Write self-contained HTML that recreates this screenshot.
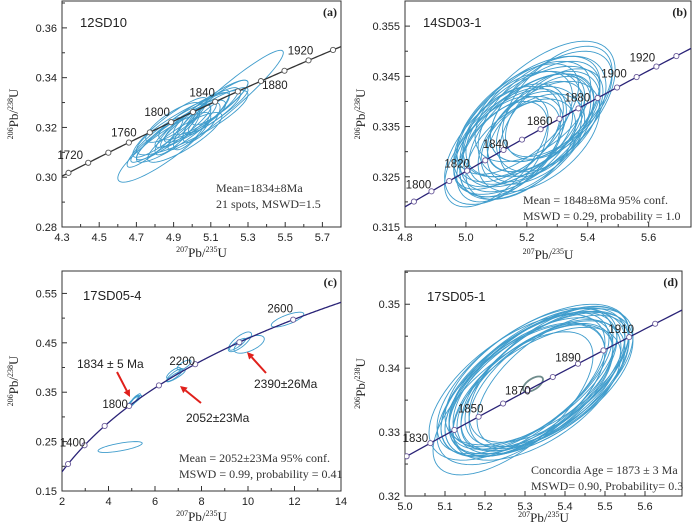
<!DOCTYPE html>
<html><head><meta charset="utf-8">
<style>
html,body{margin:0;padding:0;background:#fff;}
svg{display:block;}
.tick{font-family:"Liberation Sans",Arial,sans-serif;font-size:11px;fill:#222;}
.samp{font-family:"Liberation Sans",Arial,sans-serif;font-size:13px;fill:#222;}
.stat{font-family:"Liberation Serif","Times New Roman",serif;font-size:12px;fill:#333;}
.ttl{font-family:"Liberation Serif","Times New Roman",serif;font-size:13px;fill:#222;}
.age{font-family:"Liberation Sans",Arial,sans-serif;font-size:11.5px;fill:#222;}
.ann{font-family:"Liberation Sans",Arial,sans-serif;font-size:12px;fill:#222;}
.pl{font-family:"Liberation Serif","Times New Roman",serif;font-size:12px;font-weight:bold;fill:#222;}
</style></head>
<body>
<svg id="fig" width="700" height="528" viewBox="0 0 700 528" xmlns="http://www.w3.org/2000/svg"></svg>
<script>
// ---------- Panel (a) data ----------
const aEllX  =[5.18,4.85,5.00,4.95,5.05,4.90,5.10,4.98,5.05,4.85,5.15,4.92,5.00,5.08,4.80,5.00,4.96,5.12,4.88,5.05,4.90];
const aEllY  =[0.331,0.312,0.322,0.320,0.325,0.318,0.328,0.321,0.324,0.316,0.330,0.318,0.320,0.326,0.314,0.323,0.316,0.326,0.320,0.322,0.322];
const aEllSx =[0.31,0.25,0.30,0.25,0.20,0.20,0.20,0.15,0.25,0.18,0.15,0.12,0.10,0.12,0.15,0.18,0.20,0.14,0.20,0.10,0.15];
const aEllSy =[0.020,0.014,0.013,0.014,0.011,0.011,0.011,0.009,0.012,0.010,0.009,0.009,0.009,0.009,0.010,0.008,0.010,0.008,0.012,0.008,0.008];
const aEllRho=[0.95,0.88,0.86,0.9,0.9,0.92,0.9,0.9,0.92,0.92,0.88,0.85,0.8,0.85,0.9,0.8,0.85,0.9,0.9,0.75,0.8];
const aXTicks=[4.3,4.5,4.7,4.9,5.1,5.3,5.5,5.7];
const aYTicks=[0.28,0.30,0.32,0.34,0.36];
const aMarkAges=[1700,1720,1740,1760,1780,1800,1820,1840,1860,1880,1900,1920,1940];
const aLabelAges=[1720,1760,1800,1840,1880,1920];
const aStats=["Mean=1834\u00b18Ma","21 spots, MSWD=1.5"];

// ---------- Panel (b) data ----------
const bEllX  =[5.24,5.20,5.18,5.22,5.15,5.26,5.20,5.12,5.28,5.17,5.23,5.19,5.14,5.25,5.21,5.16,5.27,5.13,5.22,5.18,5.30,5.10,5.24,5.20,5.15,5.26,5.19,5.22,5.17,5.29];
const bEllY  =[0.3375,0.3330,0.3340,0.3360,0.3310,0.3380,0.3345,0.3300,0.3390,0.3320,0.3350,0.3335,0.3325,0.3370,0.3340,0.3350,0.3360,0.3315,0.3380,0.3305,0.3400,0.3300,0.3330,0.3360,0.3340,0.3350,0.3320,0.3325,0.3365,0.3375];
const bEllSx =[0.25,0.22,0.20,0.22,0.17,0.18,0.19,0.15,0.20,0.21,0.16,0.23,0.18,0.21,0.14,0.19,0.17,0.20,0.19,0.18,0.18,0.17,0.20,0.24,0.16,0.15,0.12,0.17,0.20,0.16];
const bEllSy =[0.0145,0.0125,0.012,0.011,0.010,0.010,0.011,0.010,0.011,0.011,0.009,0.012,0.010,0.012,0.008,0.011,0.010,0.012,0.010,0.010,0.011,0.011,0.011,0.013,0.009,0.010,0.008,0.009,0.011,0.009];
const bEllRho=[0.6,0.55,0.5,0.55,0.5,0.5,0.6,0.5,0.55,0.45,0.5,0.6,0.6,0.5,0.4,0.55,0.45,0.55,0.5,0.5,0.55,0.6,0.5,0.6,0.4,0.5,0.4,0.45,0.6,0.5];
const bXTicks=[4.8,5.0,5.2,5.4,5.6];
const bYTicks=[0.315,0.325,0.335,0.345,0.355];
const bMarkAges=[1790,1800,1810,1820,1830,1840,1850,1860,1870,1880,1890,1900,1910,1920,1930];
const bLabelAges=[1800,1820,1840,1860,1880,1900,1920];
const bStats=["Mean = 1848\u00b18Ma  95% conf.","MSWD = 0.29, probability = 1.0"];

// ---------- Panel (c) data ----------
const cEllX  =[4.5,5.08,5.15,5.12,5.10,6.85,6.80,6.90,7.25,9.65,10.05,9.55,11.7];
const cEllY  =[0.239,0.331,0.335,0.333,0.334,0.385,0.389,0.383,0.405,0.452,0.447,0.447,0.497];
const cEllSx =[0.95,0.22,0.22,0.30,0.18,0.35,0.30,0.40,0.30,0.50,0.65,0.35,0.70];
const cEllSy =[0.011,0.012,0.012,0.011,0.010,0.013,0.011,0.012,0.010,0.020,0.018,0.012,0.015];
const cEllRho=[0.7,0.9,0.9,0.9,0.85,0.85,0.8,0.9,0.7,0.75,0.6,0.85,0.75];
const cXTicks=[2,4,6,8,10,12,14];
const cYTicks=[0.15,0.25,0.35,0.45,0.55];
const cMarkAges=[1200,1400,1600,1800,2000,2200,2400,2600];
const cLabelAges=[1400,1800,2200,2600];
const cStats=["Mean = 2052\u00b123Ma 95% conf.","MSWD = 0.99, probability = 0.41"];

// ---------- Panel (d) data ----------
const dEllX  =[5.32,5.33,5.31,5.34,5.30,5.35,5.33,5.32,5.36,5.31,5.34,5.29,5.33,5.35,5.30,5.32,5.36,5.31,5.34,5.33,5.28,5.37,5.27];
const dEllY  =[0.3375,0.3380,0.3370,0.3385,0.3365,0.3380,0.3370,0.3385,0.3390,0.3375,0.3370,0.3360,0.3390,0.3375,0.3380,0.3365,0.3385,0.3380,0.3375,0.3360,0.3370,0.3380,0.3345];
const dEllSx =[0.23,0.22,0.21,0.22,0.20,0.21,0.19,0.21,0.20,0.22,0.21,0.21,0.23,0.19,0.22,0.20,0.21,0.20,0.23,0.21,0.22,0.19,0.20];
const dEllSy =[0.0114,0.0114,0.0109,0.0112,0.0104,0.0109,0.0100,0.0108,0.0106,0.0112,0.0104,0.0111,0.0110,0.0101,0.0114,0.0103,0.0108,0.0107,0.0112,0.0104,0.0114,0.0103,0.0112];
const dEllRho=[0.6,0.62,0.6,0.62,0.58,0.6,0.6,0.62,0.6,0.63,0.58,0.6,0.6,0.57,0.63,0.6,0.6,0.62,0.6,0.58,0.62,0.6,0.66];
const dMeanX=[5.32], dMeanY=[0.3375], dMeanSx=[0.025], dMeanSy=[0.0012], dMeanRho=[0.6];
const dXTicks=[5.0,5.1,5.2,5.3,5.4,5.5,5.6];
const dYTicks=[0.32,0.33,0.34,0.35];
const dMarkAges=[1820,1830,1840,1850,1860,1870,1880,1890,1900,1910,1920];
const dLabelAges=[1830,1850,1870,1890,1910];
const dStats=["Concordia Age = 1873 \u00b1 3 Ma","MSWD= 0.90, Probability= 0.3"];

// ---------- rendering ----------
const NS="http://www.w3.org/2000/svg";
const fig=document.getElementById('fig');
const L235=0.00098485, L238=0.000155125;
function cx207(t){return Math.exp(L235*t)-1;}
function cy206(t){return Math.exp(L238*t)-1;}
function mk(tag,attrs,parent){const e=document.createElementNS(NS,tag);for(const k in attrs)e.setAttribute(k,attrs[k]);(parent||fig).appendChild(e);return e;}

function ellipsePath(sx,sy,x,y,a,b,r){
  let d="";
  for(let i=0;i<=72;i++){const t=i/72*2*Math.PI;
    const px=x+a*Math.cos(t), py=y+b*(r*Math.cos(t)+Math.sqrt(1-r*r)*Math.sin(t));
    d+=(i?"L":"M")+sx(px).toFixed(2)+","+sy(py).toFixed(2);}
  return d+"Z";
}

function panel(cfg){
  const g=mk('g',{});
  
  
  const sx=v=>cfg.x0+(v-cfg.xd[0])/(cfg.xd[1]-cfg.xd[0])*(cfg.x1-cfg.x0);
  const sy=v=>cfg.y1-(v-cfg.yd[0])/(cfg.yd[1]-cfg.yd[0])*(cfg.y1-cfg.y0);
  const clipId='clip-'+cfg.name;
  const cp=mk('clipPath',{id:clipId},g);
  mk('rect',{x:cfg.x0,y:cfg.y0,width:cfg.x1-cfg.x0,height:cfg.y1-cfg.y0},cp);
  const frame=mk('rect',{x:cfg.x0,y:cfg.y0,width:cfg.x1-cfg.x0,height:cfg.y1-cfg.y0,fill:'none',stroke:'#333','stroke-width':1},g);
  
  
  const xs=cfg.xt, xstep=xs[1]-xs[0];
  xs.forEach((v,i)=>{
    const X=sx(v);
    mk('line',{x1:X,x2:X,y1:cfg.y1,y2:cfg.y1-5,stroke:'#333'},g);
    if(i<xs.length-1){const Xm=sx(v+xstep/2); if(Xm<cfg.x1) mk('line',{x1:Xm,x2:Xm,y1:cfg.y1,y2:cfg.y1-3,stroke:'#333'},g);}
    const t=mk('text',{x:X,y:cfg.y1+14,'text-anchor':'middle',class:'tick'},g);
    
    
    t.textContent=cfg.xfmt(v);
  });
  const ys=cfg.yt, ystep=ys[1]-ys[0];
  ys.forEach((v,i)=>{
    const Y=sy(v);
    mk('line',{x1:cfg.x0,x2:cfg.x0+5,y1:Y,y2:Y,stroke:'#333'},g);
    const Ym=sy(v+ystep/2); if(Ym>cfg.y0) mk('line',{x1:cfg.x0,x2:cfg.x0+3,y1:Ym,y2:Ym,stroke:'#333'},g);
    const t=mk('text',{x:cfg.x0-5,y:Y+4,'text-anchor':'end',class:'tick'},g);
    
    
    t.textContent=cfg.yfmt(v);
  });
  const inner=mk('g',{'clip-path':'url(#'+clipId+')'},g);
  const E=cfg.ell;
  for(let i=0;i<E[0].length;i++){
    const p=mk('path',{d:ellipsePath(sx,sy,E[0][i],E[1][i],E[2][i],E[3][i],E[4][i]),fill:'none',stroke:'#3f9ccc','stroke-width':0.9},inner);
    
    
  }
  if(cfg.mean){const M=cfg.mean;
    const p=mk('path',{d:ellipsePath(sx,sy,M[0][0],M[1][0],M[2][0],M[3][0],M[4][0]),fill:'none',stroke:'#6f8c8c','stroke-width':1.8},inner);
    
    
  }
  let d="";
  for(let t=cfg.ageRange[0];t<=cfg.ageRange[1];t+=2){d+=(d?"L":"M")+sx(cx207(t)).toFixed(2)+","+sy(cy206(t)).toFixed(2);}
  const c=mk('path',{d:d,fill:'none',stroke:cfg.ccol,'stroke-width':1.3},inner);
  
  
  cfg.marks.forEach(a=>{
    const m=mk('circle',{cx:sx(cx207(a)),cy:sy(cy206(a)),r:2.6,fill:'#fff',stroke:cfg.mcol,'stroke-width':0.9},inner);
    
    
  });
  cfg.labels.forEach((a,i)=>{
    const o=cfg.loff[i];
    const t=mk('text',{x:sx(cx207(a))+o[0],y:sy(cy206(a))+o[1],'text-anchor':'middle',class:'age'},g);
    
    
    t.textContent=a;
  });
  const s=mk('text',{x:cfg.sampPos[0],y:cfg.sampPos[1],class:'samp'},g);
  
  
  s.textContent=cfg.sample;
  const pl=mk('text',{x:cfg.x1-4,y:cfg.y0+15,'text-anchor':'end',class:'pl'},g);
  
  
  pl.textContent=cfg.letter;
  cfg.stats.forEach((line,i)=>{
    const t=mk('text',{x:cfg.statPos[0],y:cfg.statPos[1]+i*cfg.statGap,class:'stat'},g);
    
    
    t.textContent=line;
  });
  const xt=mk('text',{x:(cfg.x0+cfg.x1)/2,y:cfg.y1+cfg.xtitleDy,'text-anchor':'middle',class:'ttl'},g);
  
  
  xt.innerHTML='<tspan font-size="8" dy="-5">207</tspan><tspan dy="5">Pb/</tspan><tspan font-size="8" dy="-5">235</tspan><tspan dy="5">U</tspan>';
  const yx=cfg.ytitleX, yy=(cfg.y0+cfg.y1)/2;
  const yt=mk('text',{x:yx,y:yy,'text-anchor':'middle',class:'ttl',transform:'rotate(-90 '+yx+' '+yy+')'},g);
  
  
  yt.innerHTML='<tspan font-size="8" dy="-5">206</tspan><tspan dy="5">Pb/</tspan><tspan font-size="8" dy="-5">238</tspan><tspan dy="5">U</tspan>';
  return {g,sx,sy};
}

panel({name:'panel-a',x0:62,x1:341,y0:1,y1:227,xd:[4.3,5.8],yd:[0.28,0.3708],
  xt:aXTicks,yt:aYTicks,xfmt:v=>v.toFixed(1),yfmt:v=>v.toFixed(2),
  ell:[aEllX,aEllY,aEllSx,aEllSy,aEllRho],ccol:'#333',mcol:'#555',ageRange:[1650,1990],
  marks:aMarkAges,labels:aLabelAges,loff:[[-18,-4],[-5,-6],[-14,-6],[-13,-5],[14,8],[-8,-6]],
  sample:'12SD10',sampPos:[80,27],letter:'(a)',stats:aStats,statPos:[216,192],statGap:16,
  xtitleDy:30,ytitleX:18});
panel({name:'panel-b',x0:405,x1:691,y0:1,y1:227,xd:[4.8,5.739],yd:[0.315,0.3600],
  xt:bXTicks,yt:bYTicks,xfmt:v=>v.toFixed(1),yfmt:v=>v.toFixed(3),
  ell:[bEllX,bEllY,bEllSx,bEllSy,bEllRho],ccol:'#2a2377',mcol:'#6a5a9a',ageRange:[1770,1960],
  marks:bMarkAges,labels:bLabelAges,loff:[[-13,-3],[-10,-3],[-8,-2],[-1,-4],[-1,-7],[-3,-10],[-14,-5]],
  sample:'14SD03-1',sampPos:[423,27],letter:'(b)',stats:bStats,statPos:[523,204],statGap:16,
  xtitleDy:32,ytitleX:365});
panel({name:'panel-c',x0:62,x1:341,y0:271,y1:491,xd:[2,14],yd:[0.15,0.5954],
  xt:cXTicks,yt:cYTicks,xfmt:v=>String(v),yfmt:v=>v.toFixed(2),
  ell:[cEllX,cEllY,cEllSx,cEllSy,cEllRho],ccol:'#2a2377',mcol:'#6a5a9a',ageRange:[1000,2800],
  marks:cMarkAges,labels:cLabelAges,loff:[[-12,1],[-14,2],[-13,1],[-13,-7]],
  sample:'17SD05-4',sampPos:[83,300],letter:'(c)',stats:cStats,statPos:[179,462],statGap:16,
  xtitleDy:30,ytitleX:18});
panel({name:'panel-d',x0:405,x1:682,y0:271,y1:496,xd:[5.0,5.6925],yd:[0.32,0.3552],
  xt:dXTicks,yt:dYTicks,xfmt:v=>v.toFixed(1),yfmt:v=>v.toFixed(2),
  ell:[dEllX,dEllY,dEllSx,dEllSy,dEllRho],mean:[dMeanX,dMeanY,dMeanSx,dMeanSy,dMeanRho],
  ccol:'#2a2377',mcol:'#6a5a9a',ageRange:[1800,1940],
  marks:dMarkAges,labels:dLabelAges,loff:[[-15,-1],[-8,-4],[-10,4],[-10,-2],[-8,-4]],
  sample:'17SD05-1',sampPos:[427,301],letter:'(d)',stats:dStats,statPos:[531,474],statGap:16,
  xtitleDy:26,ytitleX:365});

function arrow(x1,y1,x2,y2,name){
  const g=mk('g',{});
  
  
  const ang=Math.atan2(y2-y1,x2-x1), h=7;
  const bx=x2-h*Math.cos(ang), by=y2-h*Math.sin(ang);
  mk('line',{x1:x1,y1:y1,x2:bx,y2:by,stroke:'#e0201b','stroke-width':2},g);
  const p1=[bx+3.5*Math.sin(ang),by-3.5*Math.cos(ang)],p2=[bx-3.5*Math.sin(ang),by+3.5*Math.cos(ang)];
  mk('polygon',{points:x2+','+y2+' '+p1.join(',')+' '+p2.join(','),fill:'#e0201b'},g);
}
arrow(117,372,130,397,'arrow-1834');
arrow(201,403,180,386,'arrow-2052');
arrow(266,373,247,352,'arrow-2390');
[["1834 \u00b1 5 Ma",77,368,'annotation-1834'],["2052\u00b123Ma",186,422,'annotation-2052'],["2390\u00b126Ma",254,388,'annotation-2390']].forEach(a=>{
  const t=mk('text',{x:a[1],y:a[2],class:'ann'});
  
  
  t.textContent=a[0];
});
</script>
</body></html>
